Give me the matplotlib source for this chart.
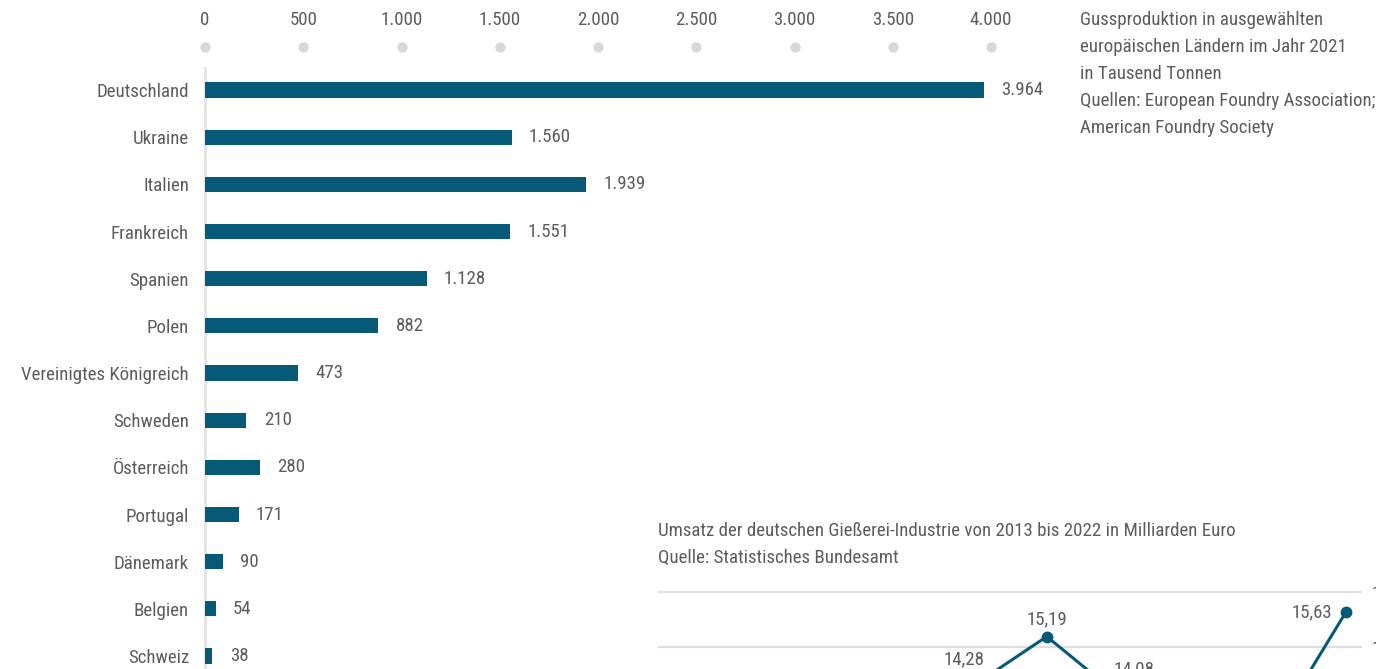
import matplotlib
matplotlib.use("Agg")
import matplotlib.pyplot as plt
from matplotlib import font_manager as fm

# ---------------- data ----------------
countries = ["Deutschland", "Ukraine", "Italien", "Frankreich", "Spanien", "Polen",
             "Vereinigtes Königreich", "Schweden", "Österreich", "Portugal",
             "Dänemark", "Belgien", "Schweiz"]
production = [3964, 1560, 1939, 1551, 1128, 882, 473, 210, 280, 171, 90, 54, 38]
bar_ticks = [0, 500, 1000, 1500, 2000, 2500, 3000, 3500, 4000]

years = [2013, 2014, 2015, 2016, 2017, 2018, 2019, 2020, 2021, 2022]
revenue = [13.0, 13.5, 13.6, 13.3, 14.28, 15.19, 14.08, 11.55, 13.4, 15.63]
rev_ticks = [12, 13, 14, 15, 16]

note_lines = ["Gussproduktion in ausgewählten",
              "europäischen Ländern im Jahr 2021",
              "in Tausend Tonnen",
              "Quellen: European Foundry Association;",
              "American Foundry Society"]
line_title = ["Umsatz der deutschen Gießerei-Industrie von 2013 bis 2022 in Milliarden Euro",
              "Quelle: Statistisches Bundesamt"]

# label offsets for line points (points units): (dx, dy, ha, va)
lbl_style = {2017: (-6, 13, "center", "bottom"),
             2018: (0, 6, "center", "bottom"),
             2019: (9, 14, "center", "bottom"),
             2022: (-10, 0, "right", "center")}

# ---------------- style ----------------
available = {f.name for f in fm.fontManager.ttflist}
FONT = "Roboto Condensed" if "Roboto Condensed" in available else "DejaVu Sans"
plt.rcParams["font.family"] = [FONT, "DejaVu Sans"]
FS = 13.6
TXT = "#5c5c5c"
BAR = "#065a78"
DOT = "#d8d8d8"
GRID = "#dedede"

W, H = 1376, 669
fig = plt.figure(figsize=(W / 100, H / 100), dpi=100)
fig.patch.set_facecolor("white")

def fx(px):
    return px / W

def fy(py):
    return 1 - py / H

def de(v, dec=0):
    s = f"{v:,.{dec}f}"
    return s.replace(",", "X").replace(".", ",").replace("X", ".")

# ---------------- bar chart ----------------
scale = 0.1965  # px per unit
x0 = 205
ax_right = 1010
row0, rowstep = 90, 47.17
top_px, bot_px = 68, 669
ax = fig.add_axes([fx(x0), fy(bot_px), (ax_right - x0) / W, (bot_px - top_px) / H])
ax.set_xlim(0, (ax_right - x0) / scale)
ax.set_ylim((bot_px - row0) / rowstep, (top_px - row0) / rowstep)
ypos = list(range(len(countries)))
ax.barh(ypos, production, height=0.32, color=BAR, zorder=3)
for s in ["top", "right", "bottom"]:
    ax.spines[s].set_visible(False)
ax.spines["left"].set_color("#e4e4e4")
ax.spines["left"].set_linewidth(2)
ax.set_yticks(ypos)
ax.set_yticklabels(countries, fontsize=FS, color=TXT)
ax.tick_params(axis="y", length=0, pad=11.5)
ax.set_xticks([])
for y, v in zip(ypos, production):
    ax.annotate(de(v), (v, y), xytext=(12.5, 0), textcoords="offset points",
                ha="left", va="center", fontsize=FS, color=TXT)
trans = ax.get_xaxis_transform()
h_ax = bot_px - top_px
for t in bar_ticks:
    ax.text(t, 1 + (top_px - 20) / h_ax, de(t), transform=trans, ha="center",
            va="center", fontsize=FS, color=TXT, clip_on=False)
ax.scatter(bar_ticks, [1 + (top_px - 47) / h_ax] * len(bar_ticks), s=55, color=DOT,
           transform=trans, clip_on=False, zorder=4, linewidths=0)

# ---------------- notes ----------------
for i, line in enumerate(note_lines):
    fig.text(fx(1080), fy(20 + 27 * i), line, ha="left", va="center", fontsize=FS, color=TXT)
for i, line in enumerate(line_title):
    fig.text(fx(658), fy(531 + 27 * i), line, ha="left", va="center", fontsize=FS, color=TXT)

# ---------------- line chart ----------------
lx0, lx1 = 658, 1362
ppy = 74.75
xmin = 2013 - (673 - lx0) / ppy
xmax = xmin + (lx1 - lx0) / ppy
ppv = 55.0
ltop = 575
ymax = 16 + (592 - ltop) / ppv
ymin = 11.0
lbot = 592 + (16 - ymin) * ppv
ax2 = fig.add_axes([fx(lx0), fy(lbot), (lx1 - lx0) / W, (lbot - ltop) / H])
ax2.set_xlim(xmin, xmax)
ax2.set_ylim(ymin, ymax)
for s in ax2.spines.values():
    s.set_visible(False)
ax2.set_xticks([])
ax2.set_yticks(rev_ticks)
ax2.set_yticklabels([str(t) for t in rev_ticks], fontsize=FS, color=TXT)
ax2.yaxis.tick_right()
ax2.tick_params(axis="y", length=0, pad=7)
ax2.grid(axis="y", color=GRID, linewidth=1.6, zorder=0)
ax2.plot(years, revenue, color=BAR, linewidth=2.2, marker="o", markersize=7.5, zorder=3,
         clip_on=False)
for yr, v in zip(years, revenue):
    dx, dy, ha, va = lbl_style.get(yr, (0, 8, "center", "bottom"))
    ax2.annotate(de(v, 2), (yr, v), xytext=(dx, dy), textcoords="offset points",
                 ha=ha, va=va, fontsize=FS, color=TXT)

fig.savefig("out.png", dpi=100, facecolor="white")
